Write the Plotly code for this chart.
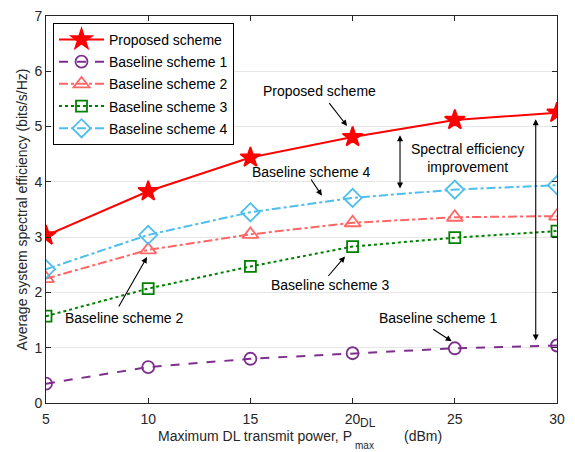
import plotly.graph_objects as go

power_dbm = [5, 10, 15, 20, 25, 30]
proposed = [3.03, 3.83, 4.44, 4.81, 5.12, 5.25]
baseline1 = [0.35, 0.65, 0.80, 0.90, 0.99, 1.04]
baseline2 = [2.25, 2.77, 3.05, 3.26, 3.36, 3.38]
baseline3 = [1.57, 2.07, 2.47, 2.83, 2.99, 3.11]
baseline4 = [2.42, 3.04, 3.45, 3.71, 3.86, 3.94]

names = ["Proposed scheme", "Baseline scheme 1", "Baseline scheme 2",
         "Baseline scheme 3", "Baseline scheme 4"]

FONT = "Arial, Liberation Sans, Helvetica, sans-serif"
AX = "#262626"

fig = go.Figure()
series = [
    (proposed, names[0], "#FF0000", "solid", "star", 15, 2),
    (baseline1, names[1], "#7E2F8E", "dash", "circle-open", 12, 2),
    (baseline2, names[2], "#FF6666", "dashdot", "triangle-up-open", 14, 2),
    (baseline3, names[3], "#008000", "dot", "square-open", 11, 2),
    (baseline4, names[4], "#4DBEEE", "dashdot", "diamond-open", 14, 2),
]
for i, (ys, nm, col, dash, sym, msz, lw) in enumerate(series):
    fig.add_trace(go.Scatter(
        x=power_dbm, y=ys, name=nm, mode="lines+markers",
        legendgroup="g%d" % i,
        line=dict(color=col, width=lw, dash=dash),
        marker=dict(symbol=sym, size=msz, color=col,
                    line=dict(color=col, width=1.8)),
    ))

# layout geometry (pixels)
L, R, T, B = 46, 18, 8, 49
W, H = 575, 452
pw = W - L - R
ph = H - T - B

def px(xp):
    return (xp - L) / pw

def py(yp):
    return (H - B - yp) / ph

anns = []
def text_ann(x, y, s, xanchor="center"):
    anns.append(dict(x=x, y=y, xref="x", yref="y", text=s, showarrow=False,
                     xanchor=xanchor, yanchor="middle",
                     font=dict(family=FONT, size=14, color="#000")))

def arrow(x, y, ax, ay, both=False):
    anns.append(dict(x=x, y=y, ax=ax, ay=ay, xref="x", yref="y",
                     axref="x", ayref="y", text="", showarrow=True,
                     arrowhead=2, arrowsize=1.1, arrowwidth=1.1,
                     arrowcolor="#000",
                     arrowside="end+start" if both else "end"))

text_ann(18.4, 5.65, "Proposed scheme")
arrow(19.73, 5.01, 18.8, 5.45)
text_ann(18.0, 4.18, "Baseline scheme 4")
arrow(18.5, 3.75, 17.92, 4.07)
text_ann(22.76, 4.43, "Spectral efficiency<br>improvement", xanchor="left")
arrow(22.32, 3.88, 22.32, 4.87, both=True)
arrow(28.96, 1.13, 28.96, 5.16, both=True)
text_ann(18.9, 2.14, "Baseline scheme 3")
arrow(19.63, 2.65, 18.75, 2.27)
text_ann(5.83, 1.54, "Baseline scheme 2", xanchor="left")
arrow(9.94, 2.64, 8.52, 1.72)
text_ann(24.18, 1.54, "Baseline scheme 1")
arrow(24.85, 1.115, 23.87, 1.35)

# x-axis title with stacked super/subscript
tf = dict(family=FONT, size=14, color=AX)
anns.append(dict(x=px(354), y=py(437), xref="paper", yref="paper",
                 text="Maximum DL transmit power, P", showarrow=False,
                 xanchor="right", yanchor="middle", font=tf))
anns.append(dict(x=px(358), y=py(423), xref="paper", yref="paper",
                 text="DL", showarrow=False, xanchor="left", yanchor="middle",
                 font=dict(family=FONT, size=12, color=AX)))
anns.append(dict(x=px(353), y=py(446), xref="paper", yref="paper",
                 text="max", showarrow=False, xanchor="left", yanchor="middle",
                 font=dict(family=FONT, size=10, color=AX)))
anns.append(dict(x=px(402), y=py(437), xref="paper", yref="paper",
                 text="(dBm)", showarrow=False, xanchor="left",
                 yanchor="middle", font=tf))

fig.update_layout(
    width=W, height=H,
    margin=dict(l=L, r=R, t=T, b=B, pad=0),
    paper_bgcolor="white", plot_bgcolor="white",
    font=dict(family=FONT, size=14, color=AX),
    showlegend=True,
    legend=dict(x=px(53), y=py(15), xanchor="left", yanchor="top",
                bgcolor="white", bordercolor="#000", borderwidth=1,
                font=dict(family=FONT, size=14, color="#000"),
                itemwidth=45, tracegroupgap=1),
    annotations=anns,
)
fig.update_xaxes(range=[5, 30], tickvals=[5, 10, 15, 20, 25, 30],
                 showgrid=False, zeroline=False,
                 showline=True, linecolor=AX, linewidth=1, mirror="ticks",
                 ticks="inside", ticklen=5, tickcolor=AX,
                 ticklabelstandoff=3,
                 tickfont=dict(family=FONT, size=14, color=AX))
fig.update_yaxes(range=[0, 7], tickvals=list(range(0, 8)),
                 showgrid=True, gridcolor="#E6E6E6", gridwidth=1,
                 zeroline=False, ticklabeloverflow="allow",
                 showline=True, linecolor=AX, linewidth=1, mirror="ticks",
                 ticks="inside", ticklen=5, tickcolor=AX,
                 tickfont=dict(family=FONT, size=14, color=AX),
                 title=dict(text="Average system spectral efficiency (bits/s/Hz)",
                            font=dict(family=FONT, size=14, color=AX),
                            standoff=3))

fig.write_html("out.html",
               config={"displayModeBar": False},
               post_script="document.body.style.margin='0';"
                           "document.body.style.overflow='hidden';")
